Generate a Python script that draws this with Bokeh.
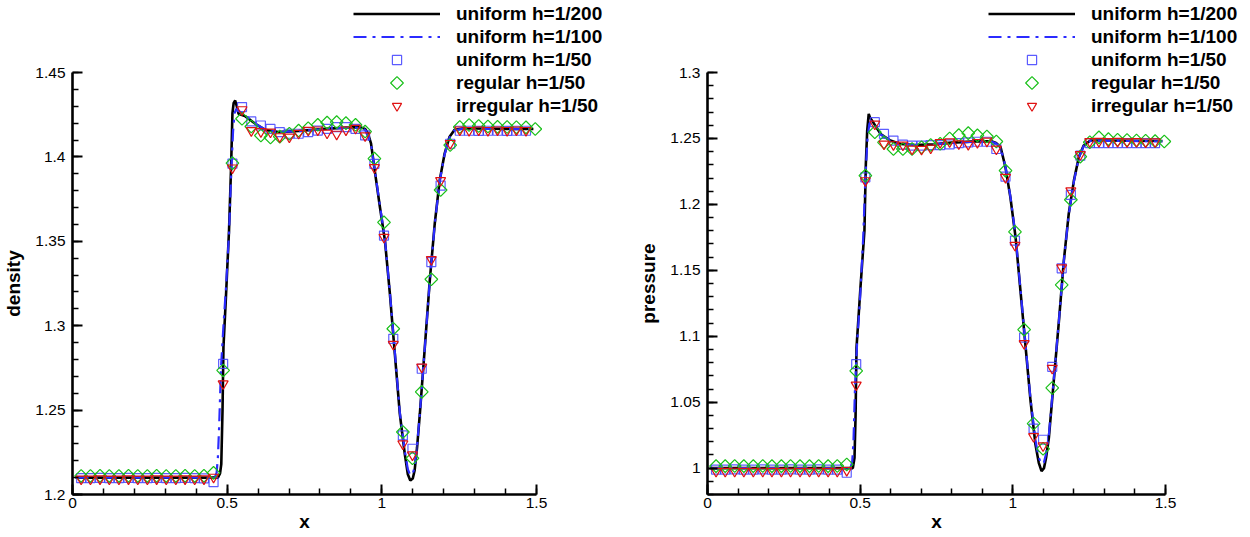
import numpy as np
from bokeh.plotting import figure
from bokeh.models import Range1d, FixedTicker, Legend, LegendItem, Title
from bokeh.layouts import row
from bokeh.embed import file_html
from bokeh.resources import INLINE

# ---------------- data ----------------
# cell positions of the h=1/50 meshes
x_h50 = [0.028, 0.058, 0.089, 0.119, 0.150, 0.181, 0.211, 0.242, 0.272, 0.303,
         0.334, 0.364, 0.395, 0.425, 0.456, 0.487, 0.517, 0.548, 0.578, 0.609,
         0.640, 0.670, 0.701, 0.731, 0.762, 0.793, 0.823, 0.854, 0.884, 0.915,
         0.946, 0.976, 1.007, 1.037, 1.068, 1.099, 1.129, 1.160, 1.190, 1.221,
         1.252, 1.282, 1.313, 1.343, 1.374, 1.405, 1.435, 1.466]
x_regular50 = x_h50 + [1.496]

# density
dens_h200_x = [0.010, 0.470, 0.477, 0.481, 0.485, 0.488, 0.496, 0.506, 0.513, 0.517,
               0.521, 0.526, 0.531, 0.537, 0.559, 0.591, 0.623, 0.666, 0.731, 0.817,
               0.903, 0.930, 0.946, 0.955, 0.965, 0.977, 0.994, 1.010, 1.026, 1.042,
               1.058, 1.074, 1.084, 1.092, 1.100, 1.106, 1.114, 1.123, 1.139, 1.155,
               1.171, 1.187, 1.203, 1.219, 1.235, 1.260, 1.300, 1.490]
dens_h200_y = [1.2100, 1.2100, 1.2125, 1.2180, 1.2500, 1.2873, 1.3169, 1.3564, 1.3960, 1.4257,
               1.4320, 1.4334, 1.4300, 1.4255, 1.4240, 1.4196, 1.4160, 1.4147, 1.4153, 1.4166,
               1.4176, 1.4175, 1.4166, 1.4140, 1.4080, 1.3920, 1.3700, 1.3505, 1.3190, 1.2835,
               1.2480, 1.2243, 1.2120, 1.2083, 1.2095, 1.2142, 1.2280, 1.2480, 1.2873, 1.3268,
               1.3604, 1.3860, 1.4020, 1.4120, 1.4160, 1.4168, 1.4168, 1.4165]

dens_h100_x = [0.010, 0.460, 0.466, 0.470, 0.474, 0.480, 0.488, 0.497, 0.506, 0.513,
               0.519, 0.524, 0.530, 0.540, 0.560, 0.591, 0.623, 0.666, 0.731, 0.817,
               0.903, 0.930, 0.946, 0.965, 0.977, 0.994, 1.010, 1.026, 1.042, 1.058,
               1.074, 1.084, 1.092, 1.100, 1.106, 1.114, 1.123, 1.139, 1.155, 1.171,
               1.187, 1.203, 1.219, 1.235, 1.260, 1.300, 1.490]
dens_h100_y = [1.2100, 1.2100, 1.2130, 1.2220, 1.2400, 1.2750, 1.3000, 1.3250, 1.3550, 1.3900,
               1.4150, 1.4260, 1.4285, 1.4270, 1.4245, 1.4196, 1.4162, 1.4148, 1.4152, 1.4165,
               1.4174, 1.4172, 1.4160, 1.4075, 1.3925, 1.3710, 1.3510, 1.3200, 1.2845, 1.2490,
               1.2260, 1.2150, 1.2113, 1.2125, 1.2160, 1.2290, 1.2480, 1.2870, 1.3265, 1.3600,
               1.3855, 1.4015, 1.4115, 1.4158, 1.4166, 1.4166, 1.4164]

dens_uniform50 = [1.2097, 1.2097, 1.2098, 1.2097, 1.2097, 1.2098, 1.2097, 1.2097, 1.2098, 1.2097,
                  1.2097, 1.2098, 1.2097, 1.2096, 1.2073, 1.2774, 1.3960, 1.4295, 1.4210, 1.4186,
                  1.4166, 1.4147, 1.4137, 1.4137, 1.4147, 1.4156, 1.4166, 1.4176, 1.4176, 1.4166,
                  1.4127, 1.3959, 1.3534, 1.2922, 1.2350, 1.2271, 1.2745, 1.3377, 1.3830, 1.4078,
                  1.4155, 1.4155, 1.4154, 1.4155, 1.4155, 1.4154, 1.4155, 1.4155]
dens_regular50 = [1.2110, 1.2110, 1.2111, 1.2110, 1.2110, 1.2111, 1.2110, 1.2110, 1.2111, 1.2110,
                  1.2110, 1.2111, 1.2110, 1.2111, 1.2128, 1.2735, 1.3963, 1.4226, 1.4180, 1.4127,
                  1.4115, 1.4120, 1.4137, 1.4156, 1.4170, 1.4190, 1.4203, 1.4206, 1.4200, 1.4190,
                  1.4150, 1.3990, 1.3612, 1.2982, 1.2370, 1.2215, 1.2608, 1.3275, 1.3804, 1.4070,
                  1.4177, 1.4189, 1.4183, 1.4180, 1.4178, 1.4177, 1.4176, 1.4175, 1.4165]
dens_irregular50 = [1.2092, 1.2092, 1.2093, 1.2092, 1.2092, 1.2093, 1.2092, 1.2092, 1.2093, 1.2092,
                    1.2092, 1.2093, 1.2092, 1.2093, 1.2103, 1.2656, 1.3935, 1.4280, 1.4156, 1.4150,
                    1.4148, 1.4120, 1.4118, 1.4140, 1.4158, 1.4160, 1.4142, 1.4135, 1.4160, 1.4170,
                    1.4125, 1.3937, 1.3524, 1.2890, 1.2300, 1.2235, 1.2755, 1.3392, 1.3860, 1.4080,
                    1.4160, 1.4157, 1.4160, 1.4157, 1.4160, 1.4157, 1.4160, 1.4157]

# pressure
pres_h200_x = [0.010, 0.476, 0.4815, 0.485, 0.488, 0.501, 0.514, 0.5186, 0.523, 0.528,
               0.532, 0.539, 0.567, 0.599, 0.632, 0.680, 0.740, 0.800, 0.880, 0.930,
               0.945, 0.960, 0.976, 0.992, 1.009, 1.025, 1.042, 1.058, 1.074, 1.085,
               1.094, 1.102, 1.109, 1.118, 1.134, 1.151, 1.167, 1.183, 1.200, 1.216,
               1.232, 1.254, 1.300, 1.490]
pres_h200_y = [1.0000, 1.0000, 1.0078, 1.0400, 1.0914, 1.1370, 1.1800, 1.2307, 1.2560, 1.2686,
               1.2660, 1.2635, 1.2534, 1.2484, 1.2458, 1.2450, 1.2455, 1.2468, 1.2478, 1.2478,
               1.2465, 1.2433, 1.2280, 1.2053, 1.1750, 1.1344, 1.0914, 1.0509, 1.0180, 1.0040,
               0.9977, 1.0000, 1.0080, 1.0230, 1.0660, 1.1117, 1.1572, 1.1927, 1.2180, 1.2357,
               1.2446, 1.2484, 1.2484, 1.2480]

pres_h100_x = [0.010, 0.468, 0.474, 0.478, 0.483, 0.490, 0.500, 0.510, 0.517, 0.524,
               0.530, 0.536, 0.545, 0.567, 0.599, 0.632, 0.680, 0.740, 0.800, 0.880,
               0.930, 0.945, 0.960, 0.976, 0.992, 1.009, 1.025, 1.042, 1.058, 1.074,
               1.085, 1.094, 1.102, 1.109, 1.118, 1.134, 1.151, 1.167, 1.183, 1.200,
               1.216, 1.232, 1.254, 1.300, 1.490]
pres_h100_y = [1.0000, 1.0000, 1.0050, 1.0200, 1.0600, 1.0950, 1.1300, 1.1750, 1.2200, 1.2500,
               1.2610, 1.2635, 1.2610, 1.2530, 1.2482, 1.2458, 1.2450, 1.2455, 1.2466, 1.2476,
               1.2476, 1.2463, 1.2430, 1.2285, 1.2060, 1.1760, 1.1355, 1.0925, 1.0525, 1.0210,
               1.0080, 1.0030, 1.0045, 1.0110, 1.0250, 1.0670, 1.1120, 1.1570, 1.1920, 1.2175,
               1.2352, 1.2443, 1.2482, 1.2482, 1.2478]

pres_uniform50 = [0.9989, 0.9989, 0.9990, 0.9989, 0.9989, 0.9990, 0.9989, 0.9989, 0.9990, 0.9989,
                  0.9989, 0.9990, 0.9989, 0.9988, 0.9965, 1.0788, 1.2205, 1.2623, 1.2534, 1.2484,
                  1.2453, 1.2445, 1.2445, 1.2450, 1.2450, 1.2455, 1.2465, 1.2470, 1.2475, 1.2475,
                  1.2420, 1.2210, 1.1725, 1.0990, 1.0300, 1.0215, 1.0768, 1.1515, 1.2072, 1.2369,
                  1.2464, 1.2465, 1.2465, 1.2465, 1.2465, 1.2465, 1.2465, 1.2465]
pres_regular50 = [1.0015, 1.0015, 1.0016, 1.0015, 1.0015, 1.0016, 1.0015, 1.0015, 1.0016, 1.0015,
                  1.0015, 1.0016, 1.0015, 1.0016, 1.0028, 1.0737, 1.2218, 1.2547, 1.2470, 1.2420,
                  1.2420, 1.2420, 1.2433, 1.2450, 1.2460, 1.2500, 1.2525, 1.2540, 1.2523, 1.2515,
                  1.2477, 1.2256, 1.1792, 1.1050, 1.0338, 1.0147, 1.0608, 1.1389, 1.2035, 1.2362,
                  1.2471, 1.2508, 1.2495, 1.2490, 1.2488, 1.2485, 1.2483, 1.2480, 1.2477]
pres_irregular50 = [0.9976, 0.9976, 0.9977, 0.9976, 0.9976, 0.9977, 0.9976, 0.9976, 0.9977, 0.9976,
                    0.9976, 0.9977, 0.9976, 0.9977, 0.9983, 1.0630, 1.2180, 1.2610, 1.2458, 1.2453,
                    1.2450, 1.2420, 1.2418, 1.2428, 1.2470, 1.2475, 1.2460, 1.2455, 1.2470, 1.2480,
                    1.2420, 1.2205, 1.1690, 1.0945, 1.0240, 1.0170, 1.0758, 1.1520, 1.2103, 1.2378,
                    1.2477, 1.2478, 1.2476, 1.2478, 1.2475, 1.2477, 1.2474, 1.2475]

series_labels = ["uniform h=1/200", "uniform h=1/100", "uniform h=1/50",
                 "regular h=1/50", "irregular h=1/50"]

x_ticks = [0, 0.5, 1, 1.5]
x_tick_labels = ["0", "0.5", "1", "1.5"]
dens_ticks = [1.2, 1.25, 1.3, 1.35, 1.4, 1.45]
dens_tick_labels = ["1.2", "1.25", "1.3", "1.35", "1.4", "1.45"]
pres_ticks = [1.0, 1.05, 1.1, 1.15, 1.2, 1.25, 1.3]
pres_tick_labels = ["1", "1.05", "1.1", "1.15", "1.2", "1.25", "1.3"]

# ---------------- styling / layout ----------------
FONT = "Liberation Sans"
BLUE_LINE = "#2b2bff"
BLUE_MK = "#4040ff"
GREEN = "#19c019"
RED = "#e01212"

PANEL_W, FIG_H = 625, 537
AX_TOP, AX_BOTTOM = 72, 494        # pixel rows of the axis ends
TITLE_PX = 19
# approximate rendered widths of the bold axis titles at 19px
TITLE_W = {"x": 10.6, "density": 66.5, "pressure": 80.3}
Y_BORDER = 79                      # space the y axis + its title need

LEG_X, LEG_ROW, LEG_GLYPH_W = 281, 23, 87
LEG_H = 5 * LEG_ROW
LEG_Y = AX_BOTTOM - 2 - LEG_H       # bottom edge of legend, from frame bottom


def make_panel(y_label, y_bounds, y_ticks, y_tick_labels, y_minor,
               lx, ly, lx100, ly100, s_uni, s_reg, s_irr, ax_left, ax_right):
    # the plotting frame covers the whole area right of / above the axes so that
    # the legend (which sits partly above the axes) is not clipped; the axes
    # themselves are limited with `bounds`
    shift = max(0, Y_BORDER - ax_left)       # figure pulled left by this much
    border_left = ax_left + shift
    fig_w = PANEL_W + shift
    frame_w = fig_w - border_left
    frame_h = AX_BOTTOM
    x_end = 1.5 * frame_w / (ax_right - ax_left)
    y0, y1 = y_bounds
    y_end = y0 + (y1 - y0) * frame_h / (AX_BOTTOM - AX_TOP)

    p = figure(width=fig_w, height=FIG_H, output_backend="svg", toolbar_location=None,
               x_range=Range1d(0, x_end), y_range=Range1d(y0, y_end),
               min_border_left=border_left, min_border_right=0,
               min_border_top=0, min_border_bottom=FIG_H - AX_BOTTOM,
               background_fill_color="white", border_fill_color="white")
    if shift:
        p.margin = (0, 0, 0, -shift)
    p.outline_line_color = None
    p.xgrid.visible = False
    p.ygrid.visible = False

    r1 = p.line(lx, ly, line_color="black", line_width=2.6)
    r2 = p.line(lx100, ly100, line_color=BLUE_LINE, line_width=2.2, line_dash="13 6 3 6")
    r3 = p.scatter(x_h50, s_uni, marker="square", size=9, fill_color=None,
                   line_color=BLUE_MK, line_width=1.2, line_alpha=0.85)
    p.scatter(x_regular50, s_reg, marker="square", angle=np.pi / 4, size=9,
              fill_color=None, line_color=GREEN, line_width=1.2)
    r5 = p.scatter(x_h50, s_irr, marker="inverted_triangle", size=10, fill_color=None,
                   line_color=RED, line_width=1.2)
    # legend entry for the diamonds: the legend draws markers unrotated, so the
    # entry itself is blank and the rotated key is drawn at the legend slot
    r4_leg = p.scatter([], [], marker="square", size=9, fill_alpha=0, line_alpha=0)
    key_sx = LEG_X + LEG_GLYPH_W / 2
    key_sy = LEG_Y + LEG_H - 3.5 * LEG_ROW
    p.scatter([key_sx * x_end / frame_w], [y0 + key_sy * (y_end - y0) / frame_h],
              marker="square", angle=np.pi / 4, size=9, fill_color=None,
              line_color=GREEN, line_width=1.2)

    p.xaxis.ticker = FixedTicker(ticks=x_ticks,
                                 minor_ticks=np.round(np.arange(0, 1.51, 0.1), 2).tolist())
    p.xaxis.major_label_overrides = dict(zip(x_ticks, x_tick_labels))
    p.xaxis.bounds = (0, 1.5)
    p.yaxis.ticker = FixedTicker(ticks=y_ticks, minor_ticks=y_minor)
    p.yaxis.major_label_overrides = dict(zip(y_ticks, y_tick_labels))
    p.yaxis.bounds = (y0, y1)

    for ax in (p.xaxis[0], p.yaxis[0]):
        ax.axis_line_width = 2.6
        ax.axis_line_color = "black"
        ax.major_tick_in = 10
        ax.major_tick_out = 0
        ax.minor_tick_in = 6
        ax.minor_tick_out = 0
        ax.major_tick_line_width = 2
        ax.minor_tick_line_width = 1.5
        ax.major_tick_line_color = "black"
        ax.minor_tick_line_color = "black"
        ax.major_label_text_font = FONT
        ax.major_label_text_font_size = "15.5px"
        ax.major_label_text_color = "black"
    p.xaxis.major_label_standoff = 3
    p.yaxis.major_label_standoff = 7

    # axis titles, centred on the drawn (bounded) part of each axis
    axis_mid_x = (ax_right - ax_left) / 2
    tx = Title(text="x", align="left", offset=axis_mid_x - TITLE_W["x"] / 2,
               standoff=0, vertical_align="top", text_font=FONT,
               text_font_style="bold", text_font_size=f"{TITLE_PX}px", text_color="black")
    p.add_layout(tx, "below")
    axis_mid_y = (AX_BOTTOM - AX_TOP) / 2
    ty = Title(text=y_label, align="left", offset=axis_mid_y - TITLE_W[y_label] / 2,
               standoff=16, vertical_align="middle", text_font=FONT,
               text_font_style="bold", text_font_size=f"{TITLE_PX}px", text_color="black")
    p.add_layout(ty, "left")

    legend = Legend(items=[LegendItem(label=series_labels[i], renderers=[r])
                           for i, r in enumerate([r1, r2, r3, r4_leg, r5])],
                    location=(LEG_X, LEG_Y), glyph_width=LEG_GLYPH_W, glyph_height=LEG_ROW,
                    label_height=LEG_ROW, label_standoff=16, spacing=0, padding=0, margin=0,
                    border_line_alpha=0, background_fill_alpha=0,
                    label_text_font=FONT, label_text_font_style="bold",
                    label_text_font_size="19px", label_text_color="black")
    p.add_layout(legend, "center")
    return p


p1 = make_panel("density", (1.2, 1.45), dens_ticks, dens_tick_labels,
                np.round(np.arange(1.2, 1.4501, 0.01), 2).tolist(),
                dens_h200_x, dens_h200_y, dens_h100_x, dens_h100_y,
                dens_uniform50, dens_regular50, dens_irregular50, 72, 536)
p2 = make_panel("pressure", (0.98, 1.3), pres_ticks, pres_tick_labels,
                np.round(np.arange(0.98, 1.3001, 0.01), 2).tolist(),
                pres_h200_x, pres_h200_y, pres_h100_x, pres_h100_y,
                pres_uniform50, pres_regular50, pres_irregular50, 82, 540)

layout = row(p1, p2)
open("out.html", "w").write(file_html(layout, INLINE))
